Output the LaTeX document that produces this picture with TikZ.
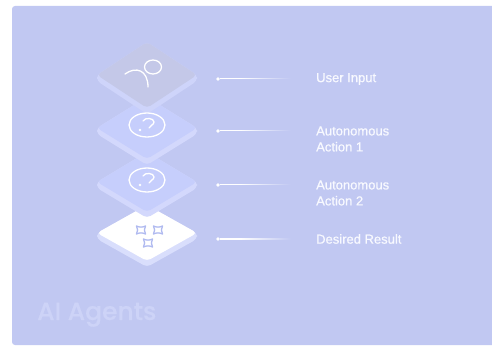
\documentclass[tikz,border=0pt]{standalone}
\usepackage{fontspec}
\setmainfont{Liberation Sans}
\newfontfamily\labelfont{Liberation Sans}[FakeBold=0.8]
\newfontfamily\titlefont{Poppins Medium}[FakeBold=0.6]
\usetikzlibrary{positioning,fadings}
\definecolor{panelbg}{RGB}{193,200,242}
\definecolor{grayface}{RGB}{196,200,232}
\definecolor{grayside}{RGB}{206,212,250}
\definecolor{tintface}{RGB}{198,206,252}
\definecolor{tintside}{RGB}{211,216,252}
\definecolor{whiteside}{RGB}{217,222,252}
\definecolor{sparkblue}{RGB}{176,186,240}
\definecolor{titletext}{RGB}{205,211,247}
\definecolor{labeltext}{RGB}{248,249,255}
\tikzfading[name=wirefade, left color=transparent!0, right color=transparent!100]

\begin{document}
\begin{tikzpicture}[x=1pt, y=-1pt,
      dot/.style={circle, fill=white, inner sep=0pt, minimum size=3.6pt},
      lbl/.style={font=\labelfont\fontsize{13}{16}\selectfont, text=labeltext, align=left, inner sep=0pt},
      wire/.style={white, line width=1pt, shorten >=10pt, path fading=wirefade,
                   fit fading=false, fading transform={shift={(#1)}, xshift=48pt}},
      icon/.style={white, line width=1.3pt, line cap=round},
      spark/.style={sparkblue, line width=1.3pt, line join=round},
      title/.style={font=\titlefont\fontsize{25}{30}\selectfont, text=titletext, inner sep=0pt}]
    \useasboundingbox (0,0) rectangle (492,347);
    \fill[panelbg, rounded corners=3pt] (12,6) rectangle (496,345);

    % stacked tiles, lowest first so the upper ones lie on top
    \foreach \cy/\h/\face/\side in {233/28/white/whiteside, 182/30/tintface/tintside,
                                    128/31/tintface/tintside, 75/33/grayface/grayside}{
      \fill[\side, rounded corners=4pt] (147-50,\cy) -- (147,\cy-\h) -- (147+50,\cy)
            -- (147+50,\cy+6) -- (147,\cy+\h+6) -- (147-50,\cy+6) -- cycle;
      \fill[\face, rounded corners=4pt] (147-50,\cy) -- (147,\cy-\h) -- (147+50,\cy)
            -- (147,\cy+\h) -- cycle;
    }

    % user icon
    \draw[icon] (153,67) ellipse [x radius=8.5, y radius=7];
    \draw[icon] (125,74) .. controls (136,66) and (148,70) .. (148,87);

    % action icons
    \foreach \cy in {125,180}{
      \draw[icon] (147,\cy) ellipse [x radius=18, y radius=12];
      \draw[icon] (143,\cy-4) .. controls (145,\cy-8) and (154,\cy-7) .. (154,\cy-3)
            .. controls (154,\cy) and (150,\cy) .. (149,\cy+3);
      \fill[white] (140,\cy+5) circle [radius=1.4];
    }

    % result sparkles
    \foreach \sx/\sy in {141/230, 158/230, 148/243}
      \draw[spark] (\sx-4.5,\sy-4) .. controls (\sx-1,\sy-2.5) and (\sx+1,\sy-2.5) .. (\sx+4.5,\sy-4)
            .. controls (\sx+3,\sy-1) and (\sx+3,\sy+1) .. (\sx+4.5,\sy+4)
            .. controls (\sx+1,\sy+2.5) and (\sx-1,\sy+2.5) .. (\sx-4.5,\sy+4)
            .. controls (\sx-3,\sy+1) and (\sx-3,\sy-1) .. cycle;

    \node[dot] (d1) at (218,79) {};
    \node[dot] (d2) at (218,131) {};
    \node[dot] (d3) at (218,185) {};
    \node[dot] (d4) at (218,239) {};
    \node[lbl, right=96pt of d1] (l1) {User Input};
    \node[lbl, right=96pt of d2, yshift=-8pt] (l2) {Autonomous\\Action 1};
    \node[lbl, right=96pt of d3, yshift=-8pt] (l3) {Autonomous\\Action 2};
    \node[lbl, right=96pt of d4] (l4) {Desired Result};

    \draw[wire=d1] (d1) -- (d1 -| l1.west);
    \draw[wire=d2] (d2) -- (d2 -| l2.west);
    \draw[wire=d3] (d3) -- (d3 -| l3.west);
    \draw[wire=d4] (d4) -- (d4 -| l4.west);

    \node[title, anchor=base west] (title) at (37,320) {AI Agents};
  \end{tikzpicture}
\end{document}
